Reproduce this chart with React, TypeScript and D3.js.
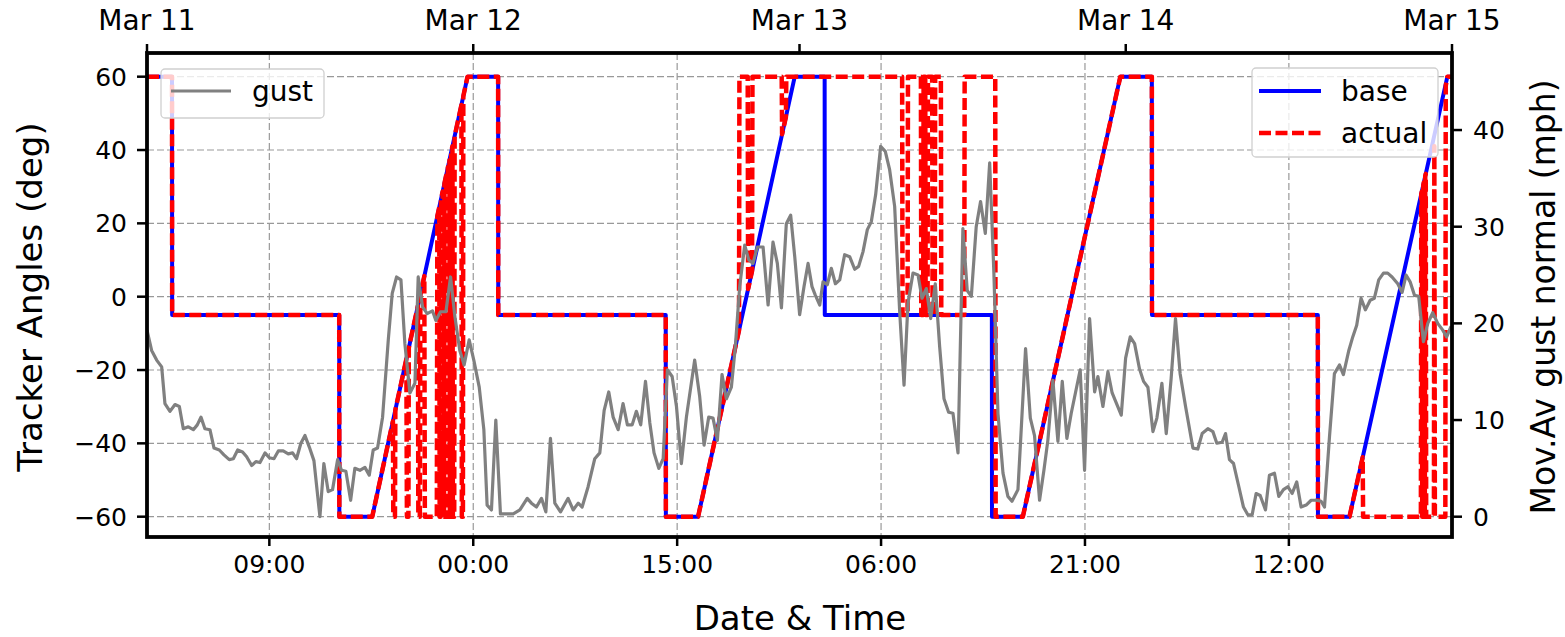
import React from "react";
import * as d3 from "d3";

// time axis: hours counted from Mar 11 00:00 (UTC to dodge DST)
const startDate = new Date(Date.UTC(2023, 2, 11));
const endDate = new Date(Date.UTC(2023, 2, 15));

const bottomTickHours = [9, 24, 39, 54, 69, 84];
const angleTicks = [-60, -40, -20, 0, 20, 40, 60];
const gustTicks = [0, 10, 20, 30, 40];

// base tracker angle (deg)
const baseHours = [0, 1.84, 1.85, 14.14, 14.15, 16.57, 23.58, 25.83, 25.84, 38.16,
  38.17, 40.54, 47.65, 49.85, 49.86, 62.15, 62.16, 64.43, 71.6, 73.92,
  73.93, 86.13, 86.14, 88.46, 95.66, 96];
const baseDeg = [60, 60, -5, -5, -60, -60, 60, 60, -5, -5,
  -60, -60, 60, 60, -5, -5, -60, -60, 60, 60,
  -5, -5, -60, -60, 60, 60];

// actual tracker angle (deg)
const actualHours = [0, 1.84, 1.85, 14.14, 14.15, 16.57,
  18.09, 18.12, 18.24, 18.27, 19.08, 19.12, 19.23, 19.26, 19.93, 19.96,
  20.07, 20.11, 20.4, 20.44, 21.32, 21.36, 21.5, 21.53, 21.6, 21.63,
  21.75, 21.78, 21.85, 21.88, 22.0, 22.03, 22.1, 22.13, 22.25, 22.28,
  22.35, 22.38, 22.47, 22.5, 22.6, 22.63, 23.13, 23.16, 23.24, 23.27,
  23.58, 25.83, 25.84, 38.16, 38.17, 40.54,
  43.55, 43.58, 44.19, 44.22, 44.51, 44.54, 46.69, 46.72, 47.0, 47.03,
  55.55, 55.58, 55.95, 55.98, 56.93, 56.96, 57.1, 57.13, 57.25, 57.28,
  57.42, 57.45, 57.76, 57.79, 57.95, 57.98, 58.4, 58.43, 60.12, 60.15,
  62.4, 62.43, 64.43, 71.6, 73.92, 73.93, 86.13, 86.14, 88.46,
  89.43, 89.46, 93.71, 93.74, 93.78, 93.81, 93.86, 93.89, 93.93, 93.96,
  94.0, 94.03, 94.07, 94.1, 94.67, 94.7, 94.74, 95.51, 95.54, 95.66, 96];
const actualDeg = [60, 60, -5, -5, -60, -60,
  -34, -60, -60, -30.9, -17, -60, -60, -13.9, -2.5, -60,
  -60, 0.6, 5.6, -60, -60, 22, 24.4, -60, -60, 26.6,
  28.7, -60, -60, 30.9, 33, -60, -60, 35.2, 37.2, -60,
  -60, 39.5, 41, -60, -60, 43.7, 52.3, -60, -60, 54.7,
  60, 60, -5, -5, -60, -60,
  -9.2, 60, 60, 2.1, 7, 60, 60, 44.3, 49, 60,
  60, -5, -5, 60, 60, -5, -5, 60, 60, -5,
  -5, 60, 60, -5, -5, 60, 60, -5, -5, 60,
  60, -60, -60, 60, 60, -5, -5, -60, -60,
  -43.8, -60, -60, 28, 28.7, -60, -60, 30.5, 31.2, -60,
  -60, 32.9, 33.5, -60, -60, 41, -60, -60, 57.5, 60, 60];

// moving average gust normal (mph)
const gustHours = [
  0, 0.34, 0.71, 1.08, 1.32, 1.69, 2.06, 2.38, 2.67, 3.04,
  3.41, 3.7, 3.97, 4.26, 4.63, 4.93, 5.32, 5.66, 6.05, 6.35,
  6.67, 7.03, 7.33, 7.7, 8.01, 8.31, 8.68, 9.0, 9.34, 9.66,
  10.02, 10.39, 10.71, 11.0, 11.32, 11.62, 11.94, 12.28, 12.72, 13.01,
  13.33, 13.65, 14.02, 14.31, 14.63, 14.98, 15.29, 15.66, 16.03, 16.35,
  16.64, 16.96, 17.33, 17.75, 18.04, 18.36, 18.68, 18.97, 19.34, 19.71,
  19.95, 20.27, 20.61, 21.0, 21.25, 21.59, 21.99, 22.33, 22.65, 23.01,
  23.33, 23.7, 24.04, 24.44, 24.78, 25.02, 25.34, 25.66, 26.0, 26.45,
  26.94, 27.43, 27.97, 28.28, 28.65, 29.02, 29.34, 29.68, 30.0, 30.42,
  30.98, 31.35, 31.72, 32.01, 32.45, 32.94, 33.31, 33.63, 33.97, 34.29,
  34.66, 35.02, 35.34, 35.69, 36.0, 36.32, 36.67, 36.99, 37.3, 37.65,
  37.97, 38.28, 38.63, 38.95, 39.31, 39.68, 40.29, 40.66, 40.98, 41.32,
  41.64, 41.96, 42.3, 42.62, 42.99, 43.28, 43.6, 43.97, 44.26, 44.58,
  44.9, 45.32, 45.69, 46.05, 46.37, 46.67, 47.03, 47.35, 47.65, 48.01,
  48.33, 48.63, 48.92, 49.17, 49.49, 49.73, 50.05, 50.34, 50.64, 50.96,
  51.32, 51.69, 52.06, 52.35, 52.67, 52.99, 53.28, 53.6, 53.97, 54.31,
  54.63, 55.0, 55.37, 55.69, 55.98, 56.35, 56.72, 57.01, 57.33, 57.65,
  57.99, 58.31, 58.63, 58.97, 59.29, 59.66, 60.02, 60.34, 60.64, 61.0,
  61.32, 61.67, 61.99, 62.3, 62.6, 62.97, 63.33, 63.63, 64.07, 64.31,
  64.63, 64.98, 65.29, 65.66, 65.98, 66.27, 66.64, 67.01, 67.33, 67.67,
  67.99, 68.65, 68.97, 69.34, 69.71, 69.95, 70.32, 70.69, 71.0, 71.67,
  71.99, 72.33, 72.65, 73.01, 73.31, 73.63, 74.0, 74.29, 74.66, 74.98,
  75.34, 75.66, 76.0, 76.4, 76.94, 77.3, 77.62, 78.04, 78.41, 78.7,
  79.09, 79.34, 79.63, 79.93, 80.32, 80.66, 80.98, 81.3, 81.59, 81.89,
  82.28, 82.57, 82.94, 83.26, 83.6, 83.92, 84.24, 84.58, 84.9, 85.27,
  85.64, 86.0, 86.37, 86.62, 86.99, 87.35, 87.72, 88.01, 88.41, 88.7,
  88.99, 89.31, 89.63, 89.98, 90.29, 90.61, 90.96, 91.27, 91.59, 92.01,
  92.33, 92.62, 92.92, 93.24, 93.55, 93.9, 94.22, 94.58, 94.95, 95.32,
  95.61, 95.93];
const gustMph = [
  19.3, 17.2, 16.2, 15.5, 11.7, 10.9, 11.6, 11.4, 9.1, 9.3,
  9.0, 9.5, 10.3, 9.1, 9.0, 7.1, 6.9, 6.4, 5.9, 6.0,
  6.9, 6.7, 6.2, 5.3, 5.7, 5.6, 6.6, 6.1, 6.0, 6.8,
  6.8, 6.5, 6.6, 6.0, 7.6, 8.4, 7.2, 5.8, 0, 5.5,
  2.6, 2.8, 5.9, 4.8, 4.7, 1.7, 5.0, 4.8, 5.1, 4.3,
  6.9, 7.1, 10.3, 18.3, 23.1, 24.8, 24.5, 17.9, 12.8, 13.8,
  24.8, 21.7, 21.0, 21.3, 20.3, 21.2, 21.2, 24.8, 20.7, 17.2,
  15.7, 18.3, 16.2, 13.4, 9.0, 1.2, 0.7, 10.0, 0.3, 0.3,
  0.3, 0.7, 1.9, 1.4, 1.0, 1.9, 0.5, 8.1, 1.4, 0.5,
  1.9, 0.7, 1.4, 1.0, 3.1, 6.0, 6.6, 11.0, 12.9, 10.3,
  9.0, 11.7, 9.5, 9.5, 10.9, 9.5, 14.0, 9.7, 6.6, 5.0,
  6.0, 15.2, 14.5, 11.4, 5.5, 10.3, 16.2, 12.4, 7.4, 10.3,
  10.2, 7.9, 14.7, 12.2, 13.4, 17.6, 23.8, 28.1, 26.6, 26.2,
  27.9, 27.9, 21.9, 28.4, 26.2, 21.6, 30.3, 31.2, 26.9, 20.9,
  23.8, 26.2, 23.8, 22.9, 21.9, 24.3, 24.0, 25.7, 24.1, 24.5,
  27.1, 26.9, 25.6, 25.9, 27.4, 29.7, 30.5, 33.3, 38.3, 37.8,
  35.9, 32.1, 21.2, 13.6, 22.1, 25.2, 25.0, 22.6, 23.6, 20.5,
  24.1, 17.6, 12.2, 10.8, 10.7, 6.6, 29.8, 23.4, 22.8, 30.0,
  32.6, 29.3, 36.6, 25.2, 10.7, 4.5, 2.1, 1.6, 2.8, 9.0,
  17.4, 10.2, 8.4, 1.7, 4.8, 7.9, 14.1, 7.8, 14.0, 8.1,
  10.7, 15.2, 4.8, 20.5, 12.9, 14.5, 11.4, 15.0, 12.8, 10.5,
  16.4, 18.6, 17.9, 15.3, 14.0, 13.4, 8.8, 10.2, 13.8, 8.6,
  14.3, 20.5, 14.8, 11.4, 7.1, 7.0, 8.6, 9.1, 8.8, 7.6,
  7.7, 8.6, 5.9, 5.5, 3.1, 1.0, 0.2, 0.2, 2.4, 2.2,
  0.7, 4.3, 4.5, 2.1, 2.8, 3.1, 2.4, 3.6, 1.0, 1.2,
  1.7, 1.7, 1.6, 1.0, 8.3, 14.8, 15.7, 14.7, 17.2, 18.6,
  19.8, 22.6, 21.4, 22.4, 22.6, 24.5, 25.2, 25.2, 24.8, 24.1,
  23.2, 25.0, 24.3, 22.9, 22.8, 18.1, 20.0, 21.1, 20.0, 19.3,
  18.6, 19.7];

const W = 1565;
const H = 637;
const left = 147;
const right = 1452;
const top = 53;
const bottom = 537;
const font = "DejaVu Sans";

const toDate = (h: number) => new Date(startDate.getTime() + h * 3600 * 1000);
const fmtNum = (v: number) => (v < 0 ? "\u2212" + Math.abs(v) : String(v));

export default function App() {
  const x = d3.scaleUtc().domain([startDate, endDate]).range([left, right]);
  const yL = d3.scaleLinear().domain([-65.54, 66.46]).range([bottom, top]);
  const yR = d3.scaleLinear().domain([-2.1, 47.97]).range([bottom, top]);

  const angleLine = (hours: number[], vals: number[]) =>
    d3
      .line<number>()
      .x((h) => x(toDate(h)))
      .y((_, i) => yL(vals[i]))(hours) || "";

  const gustPath =
    d3
      .line<number>()
      .x((h) => x(toDate(h)))
      .y((_, i) => yR(gustMph[i]))(gustHours) || "";

  const bottomTicks = bottomTickHours.map(toDate);
  const topTicks = d3.utcDay.range(startDate, d3.utcDay.offset(endDate, 1));
  const fmtBottom = d3.utcFormat("%H:%M");
  const fmtTop = d3.utcFormat("%b %d");

  const red = "#ff0000";
  const blue = "#0000ff";
  const gray = "#808080";
  const redDash = "12,4.5";

  return (
    <svg
      width={W}
      height={H}
      style={{ position: "absolute", left: 0, top: 0, background: "#fff" }}
      fontFamily={font}
    >
      <defs>
        <clipPath id="plot">
          <rect x={left} y={top} width={right - left} height={bottom - top} />
        </clipPath>
      </defs>
      <rect x={0} y={0} width={W} height={H} fill="#fff" />

      {/* grid */}
      <g stroke="#999" strokeWidth={1.2} strokeDasharray="7,3">
        {bottomTicks.map((d, i) => (
          <line key={"gx" + i} x1={x(d)} x2={x(d)} y1={top} y2={bottom} />
        ))}
        {angleTicks.map((v) => (
          <line key={"gy" + v} x1={left} x2={right} y1={yL(v)} y2={yL(v)} />
        ))}
      </g>

      {/* tracker angles */}
      <g clipPath="url(#plot)" fill="none" strokeLinejoin="round">
        <path d={angleLine(baseHours, baseDeg)} stroke={blue} strokeWidth={4} />
        <path
          d={angleLine(actualHours, actualDeg)}
          stroke={red}
          strokeWidth={4.5}
          strokeDasharray={redDash}
        />
      </g>

      {/* base / actual legend */}
      <g>
        <rect x={1252} y={68} width={186} height={89} rx={4} fill="#fff" fillOpacity={0.8} stroke="#d0d0d0" strokeWidth={1.3} />
        <line x1={1259} x2={1321} y1={91} y2={91} stroke={blue} strokeWidth={4} />
        <line x1={1259} x2={1321} y1={133} y2={133} stroke={red} strokeWidth={4.5} strokeDasharray={redDash} />
        <text x={1341} y={101} fontSize={28}>base</text>
        <text x={1341} y={143} fontSize={28}>actual</text>
      </g>

      {/* gust on the right axis */}
      <g clipPath="url(#plot)">
        <path d={gustPath} fill="none" stroke={gray} strokeWidth={3.2} strokeLinejoin="round" />
      </g>

      {/* gust legend */}
      <g>
        <rect x={161} y={69} width={163} height={49} rx={4} fill="#fff" fillOpacity={0.8} stroke="#d0d0d0" strokeWidth={1.3} />
        <line x1={171} x2={231} y1={91} y2={91} stroke={gray} strokeWidth={3.2} />
        <text x={252} y={101} fontSize={28}>gust</text>
      </g>

      {/* spines */}
      <rect x={left} y={top} width={right - left} height={bottom - top} fill="none" stroke="#000" strokeWidth={3.8} />

      {/* bottom axis */}
      <g>
        {bottomTicks.map((d, i) => (
          <g key={"bt" + i}>
            <line x1={x(d)} x2={x(d)} y1={bottom} y2={bottom + 9} stroke="#000" strokeWidth={2.5} />
            <text x={x(d)} y={573} fontSize={25} textAnchor="middle">
              {fmtBottom(d)}
            </text>
          </g>
        ))}
      </g>

      {/* top axis */}
      <g>
        {topTicks.map((d, i) => (
          <g key={"tt" + i}>
            <line x1={x(d)} x2={x(d)} y1={top} y2={top - 9} stroke="#000" strokeWidth={2.5} />
            <text x={x(d)} y={30} fontSize={28} textAnchor="middle">
              {fmtTop(d)}
            </text>
          </g>
        ))}
      </g>

      {/* left axis */}
      <g>
        {angleTicks.map((v) => (
          <g key={"lt" + v}>
            <line x1={left} x2={left - 10} y1={yL(v)} y2={yL(v)} stroke="#000" strokeWidth={2.5} />
            <text x={127} y={yL(v) + 9.1} fontSize={25} textAnchor="end">
              {fmtNum(v)}
            </text>
          </g>
        ))}
      </g>

      {/* right axis */}
      <g>
        {gustTicks.map((v) => (
          <g key={"rt" + v}>
            <line x1={right} x2={right + 10} y1={yR(v)} y2={yR(v)} stroke="#000" strokeWidth={2.5} />
            <text x={1473} y={yR(v) + 9.1} fontSize={25} textAnchor="start">
              {fmtNum(v)}
            </text>
          </g>
        ))}
      </g>

      {/* axis titles */}
      <text transform="translate(42,297) rotate(-90)" fontSize={34} textAnchor="middle">
        Tracker Angles (deg)
      </text>
      <text transform="translate(1555,297) rotate(-90)" fontSize={33} textAnchor="middle">
        Mov.Av gust normal (mph)
      </text>
      <text x={800} y={630} fontSize={34} textAnchor="middle">
        Date &amp; Time
      </text>
    </svg>
  );
}
